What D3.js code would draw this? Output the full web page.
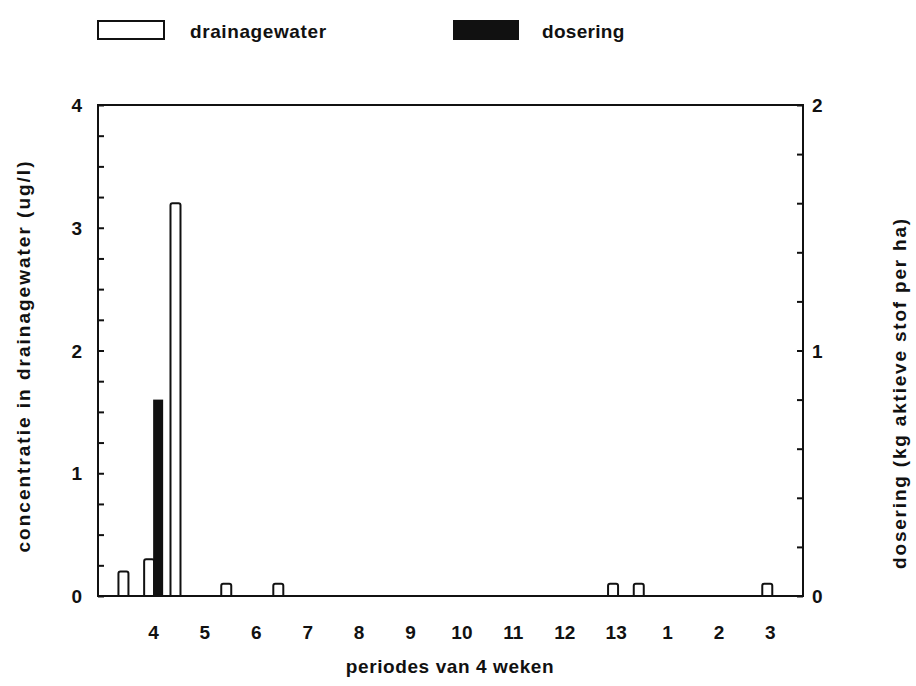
<!DOCTYPE html>
<html>
<head>
<meta charset="utf-8">
<script src="https://cdn.jsdelivr.net/npm/d3@7/dist/d3.min.js"></script>
<style>
  body { margin: 0; background: #fff; }
  svg { display: block; }
  text { font-family: "Liberation Sans", Arial, Helvetica, sans-serif; fill: #111; font-weight: bold; }
</style>
</head>
<body>
<svg id="chart" width="916" height="686"></svg>
<script>
// Period labels along the x axis (4-week periods, running 4..13 then 1..3)
const periodLabels = ["4", "5", "6", "7", "8", "9", "10", "11", "12", "13", "1", "2", "3"];
// Week offsets of each period label, measured from the start of period "4"
const periodWeeks = [0, 4, 8, 12, 16, 20, 24, 28, 32, 36, 40, 44, 48];

// Drainage water samples: week offset and concentration (ug/l)
const drainWeeks = [-2.3, -0.3, 1.75, 5.7, 9.75, 35.8, 37.8, 47.8];
const drainValues = [0.2, 0.3, 3.2, 0.1, 0.1, 0.1, 0.1, 0.1];

// Application: week offset and dose (kg active substance per ha)
const doseWeeks = [0.4];
const doseValues = [0.8];

const leftTicks = [0, 1, 2, 3, 4];
const rightTicks = [0, 1, 2];

const svg = d3.select("#chart");
const plot = { left: 98, right: 803, top: 105, bottom: 596 };

const x = d3.scaleLinear().domain([-4.28, 50.58]).range([plot.left, plot.right]);
const yL = d3.scaleLinear().domain([0, 4]).range([plot.bottom, plot.top]);
const yR = d3.scaleLinear().domain([0, 2]).range([plot.bottom, plot.top]);

const barW = 10;
const labelSize = 19;
const titleSize = 19;

// Drainage water bars (open outline, no bottom edge)
svg.append("g").selectAll("path")
  .data(drainWeeks.map((w, i) => ({ w, v: drainValues[i] })))
  .join("path")
  .attr("d", d => {
    const x0 = x(d.w) - barW / 2, x1 = x(d.w) + barW / 2, yt = yL(d.v);
    return `M${x0},${plot.bottom} V${yt + 2} Q${x0},${yt} ${x0 + 2},${yt} H${x1 - 2} Q${x1},${yt} ${x1},${yt + 2} V${plot.bottom}`;
  })
  .attr("fill", "#fff")
  .attr("stroke", "#111")
  .attr("stroke-width", 2);

// Application bars (solid)
svg.append("g").selectAll("rect")
  .data(doseWeeks.map((w, i) => ({ w, v: doseValues[i] })))
  .join("rect")
  .attr("x", d => x(d.w) - barW / 2)
  .attr("y", d => yR(d.v))
  .attr("width", barW)
  .attr("height", d => plot.bottom - yR(d.v))
  .attr("fill", "#111");

// Frame
svg.append("rect")
  .attr("x", plot.left).attr("y", plot.top)
  .attr("width", plot.right - plot.left).attr("height", plot.bottom - plot.top)
  .attr("fill", "none").attr("stroke", "#111").attr("stroke-width", 2);

// Left axis: minor ticks every 0.25 pointing inward
const leftAxis = d3.axisRight(yL).tickValues(d3.range(0, 4.001, 0.25)).tickSize(6).tickFormat("");
const gL = svg.append("g").attr("transform", `translate(${plot.left},0)`).call(leftAxis);
gL.select(".domain").remove();
gL.selectAll("line").attr("stroke", "#111").attr("stroke-width", 2);
svg.append("g").selectAll("text")
  .data(leftTicks).join("text")
  .attr("x", 82).attr("y", d => yL(d) + 7)
  .attr("text-anchor", "end")
  .attr("font-size", labelSize)
  .text(d => d);

// Right axis: ticks every 0.2 pointing inward
const rightAxis = d3.axisLeft(yR).tickValues(d3.range(0, 2.001, 0.2)).tickSize(6).tickFormat("");
const gR = svg.append("g").attr("transform", `translate(${plot.right},0)`).call(rightAxis);
gR.select(".domain").remove();
gR.selectAll("line").attr("stroke", "#111").attr("stroke-width", 2);
svg.append("g").selectAll("text")
  .data(rightTicks).join("text")
  .attr("x", 812).attr("y", d => yR(d) + 7)
  .attr("text-anchor", "start")
  .attr("font-size", labelSize)
  .text(d => d);

// Bottom axis labels
const bottomAxis = d3.axisBottom(x).tickValues(periodWeeks).tickSize(0)
  .tickFormat((d, i) => periodLabels[i]);
const gB = svg.append("g").attr("transform", `translate(0,${plot.bottom})`).call(bottomAxis);
gB.select(".domain").remove();
gB.selectAll("text")
  .attr("dy", null).attr("y", 43)
  .attr("font-size", labelSize).attr("font-weight", "bold")
  .attr("font-family", "Liberation Sans, Arial, sans-serif")
  .attr("fill", "#111");

// Axis titles
svg.append("text")
  .attr("transform", "translate(30,356) rotate(-90)")
  .attr("text-anchor", "middle").attr("font-size", titleSize).attr("letter-spacing", 2)
  .text("concentratie in drainagewater (ug/l)");
svg.append("text")
  .attr("transform", "translate(906,393) rotate(-90)")
  .attr("text-anchor", "middle").attr("font-size", titleSize).attr("letter-spacing", 1.8)
  .text("dosering (kg aktieve stof per ha)");
svg.append("text")
  .attr("x", 450).attr("y", 673)
  .attr("text-anchor", "middle").attr("font-size", titleSize).attr("letter-spacing", 0.6)
  .text("periodes van 4 weken");

// Legend
const legend = svg.append("g");
legend.append("rect").attr("x", 98).attr("y", 21).attr("width", 66).attr("height", 18)
  .attr("fill", "#fff").attr("stroke", "#111").attr("stroke-width", 2);
legend.append("text").attr("x", 190).attr("y", 38).attr("font-size", titleSize).attr("letter-spacing", 0.6)
  .text("drainagewater");
legend.append("rect").attr("x", 453).attr("y", 20).attr("width", 66).attr("height", 20)
  .attr("fill", "#111");
legend.append("text").attr("x", 542).attr("y", 38).attr("font-size", titleSize).attr("letter-spacing", 0.3)
  .text("dosering");
</script>
</body>
</html>
